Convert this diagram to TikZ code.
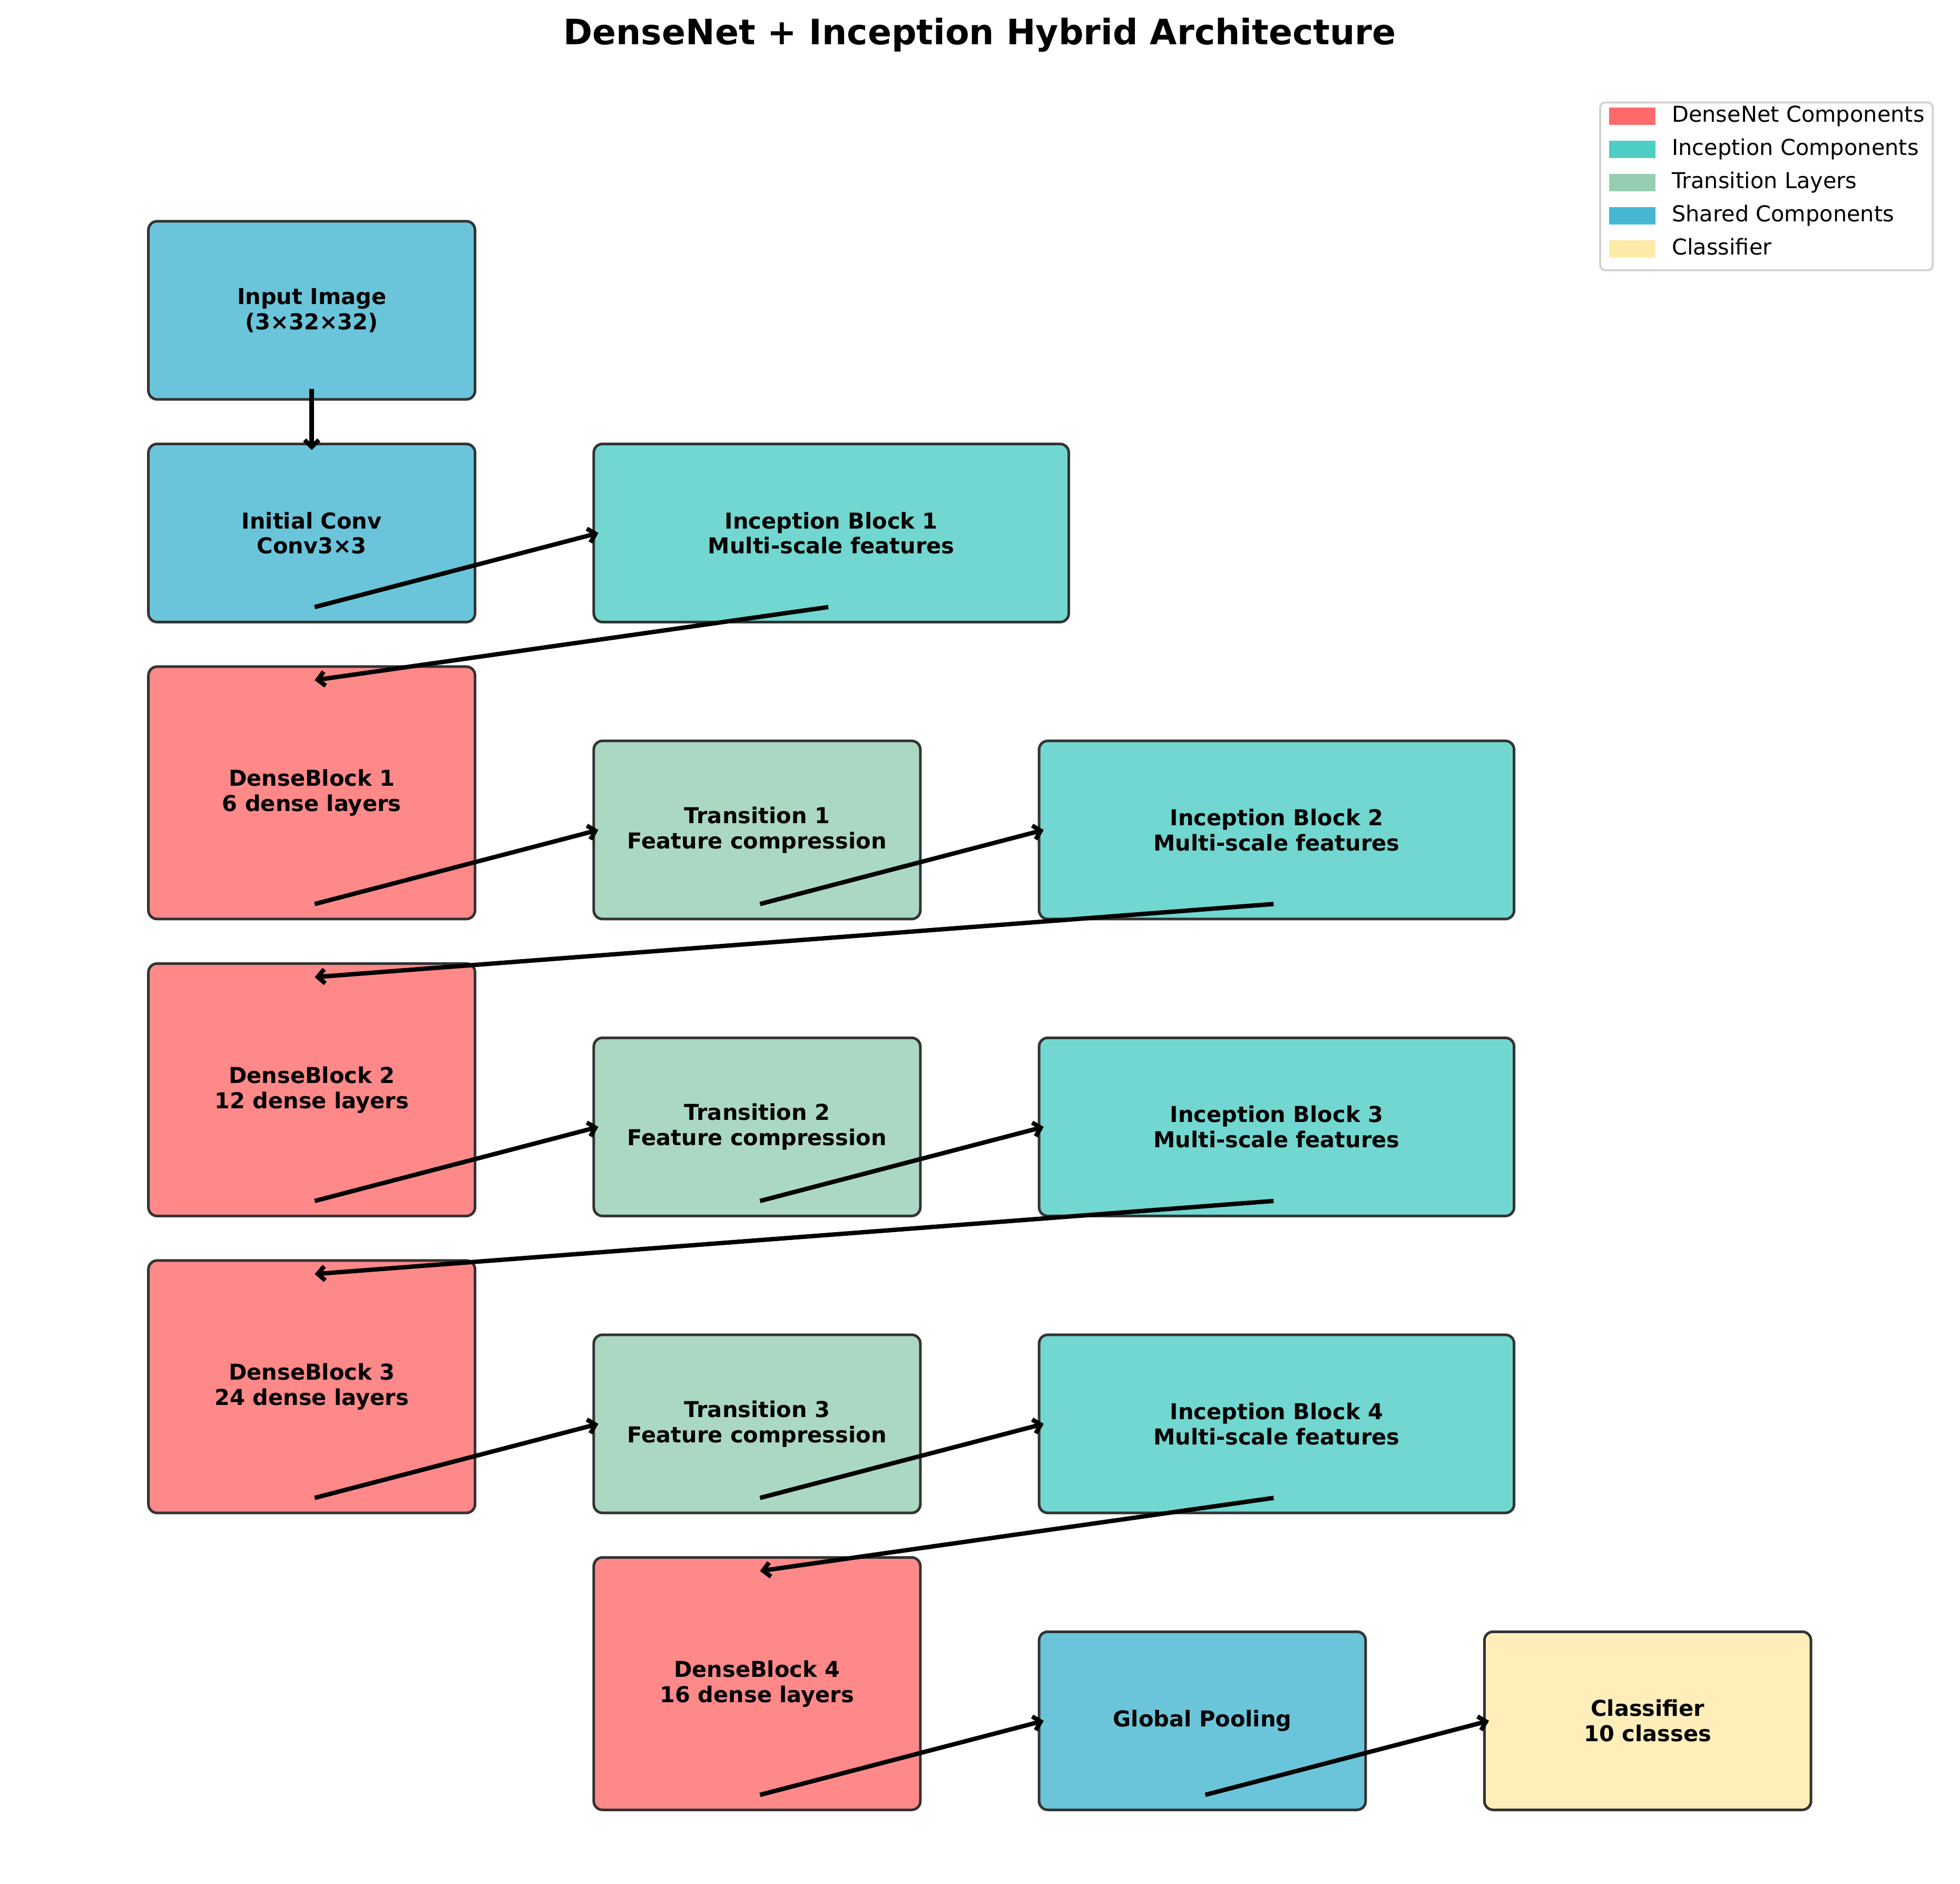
\documentclass[tikz,border=0pt]{standalone}
\usepackage{fontspec}
\setmainfont{DejaVu Sans}
\usetikzlibrary{arrows.meta,calc}

\definecolor{densecol}{HTML}{FF6B6B}
\definecolor{inceptcol}{HTML}{4ECDC4}
\definecolor{transcol}{HTML}{96CEB4}
\definecolor{sharedcol}{HTML}{45B7D1}
\definecolor{classcol}{HTML}{FFEAA7}

\tikzset{
  block/.style={draw=black!80, line width=1.2pt, fill opacity=0.8, text opacity=1,
    rounded corners=0.14cm, inner sep=0pt, align=center,
    font=\fontsize{10}{11.5}\selectfont\bfseries},
  stdbox/.style={block, minimum width=5.248cm, minimum height=2.862cm},
  densebox/.style={block, minimum width=5.248cm, minimum height=4.055cm},
  incepbox/.style={block, minimum width=7.633cm, minimum height=2.862cm},
  flow/.style={line width=2pt, -{Straight Barb[length=3.2pt,width=6.5pt]}},
  keybox/.style={inner sep=0pt, minimum width=0.743cm, minimum height=0.278cm},
  keytext/.style={anchor=west, inner sep=0pt, text height=7.3pt, text depth=2pt,
    font=\fontsize{10}{12}\selectfont}
}

\begin{document}
\begin{tikzpicture}[x=2.3853cm, y=2.3853cm]
  % Canvas
  \useasboundingbox (0,0) rectangle (13.204,-12.686);
  % Title
  \node[font=\fontsize{16}{19}\selectfont\bfseries] (title) at (6.6,-0.235) {DenseNet + Inception Hybrid Architecture};
  % Stem
  \node[stdbox, fill=sharedcol] (input) at (2.1,-2.09) {Input Image\\(3×32×32)};
  \node[stdbox, fill=sharedcol] (init) at (2.1,-3.59) {Initial Conv\\Conv3×3};
  \node[incepbox, fill=inceptcol] (incep1) at (5.6,-3.59) {Inception Block 1\\Multi-scale features};
  % Dense / transition / inception rows
  \foreach \i/\j/\y/\n in {1/2/5.34/6,2/3/7.34/12,3/4/9.34/24}{
    \node[densebox, fill=densecol] (dense\i) at (2.1,-\y) {DenseBlock \i\\\n{} dense layers};
    \node[stdbox, fill=transcol] (trans\i) at (5.1,-\y-0.25) {Transition \i\\Feature compression};
    \node[incepbox, fill=inceptcol] (incep\j) at (8.6,-\y-0.25) {Inception Block \j\\Multi-scale features};
  }
  % Head
  \node[densebox, fill=densecol] (dense4) at (5.1,-11.34) {DenseBlock 4\\16 dense layers};
  \node[stdbox, fill=sharedcol] (gpool) at (8.1,-11.59) {Global Pooling};
  \node[stdbox, fill=classcol] (classif) at (11.1,-11.59) {Classifier\\10 classes};

  % Connections
  \draw[flow] ($(input.south)+(0,0.08)$) -- ($(init.north)+(0,-0.05)$);
  \draw[flow] ($(init.south)+(0.02,0.11)$) -- ($(incep1.west)+(0.04,0)$);
  \foreach \i/\j in {1/2,2/3,3/4}{
    \draw[flow] ($(incep\i.south)+(-0.02,0.11)$) -- ($(dense\i.north)+(0.02,-0.1)$);
    \draw[flow] ($(dense\i.south)+(0.02,0.11)$) -- ($(trans\i.west)+(0.04,0)$);
    \draw[flow] ($(trans\i.south)+(0.02,0.11)$) -- ($(incep\j.west)+(0.04,0)$);
  }
  \draw[flow] ($(incep4.south)+(-0.02,0.11)$) -- ($(dense4.north)+(0.02,-0.1)$);
  \draw[flow] ($(dense4.south)+(0.02,0.11)$) -- ($(gpool.west)+(0.04,0)$);
  \draw[flow] ($(gpool.south)+(0.02,0.11)$) -- ($(classif.west)+(0.04,0)$);

  % Legend
  \draw[draw=black!18, line width=0.9pt, fill=white, rounded corners=0.08cm] (10.78,-0.69) rectangle (13.02,-1.82);
  \foreach \c/\txt [count=\k] in {densecol/DenseNet Components, inceptcol/Inception Components,
      transcol/Transition Layers, sharedcol/Shared Components, classcol/Classifier}{
    \node[keybox, fill=\c] (key\k) at (10.995,-0.56-0.2235*\k) {};
    \node[keytext] (lab\k) at (11.26,-0.56-0.2235*\k) {\txt};
  }
\end{tikzpicture}
\end{document}
